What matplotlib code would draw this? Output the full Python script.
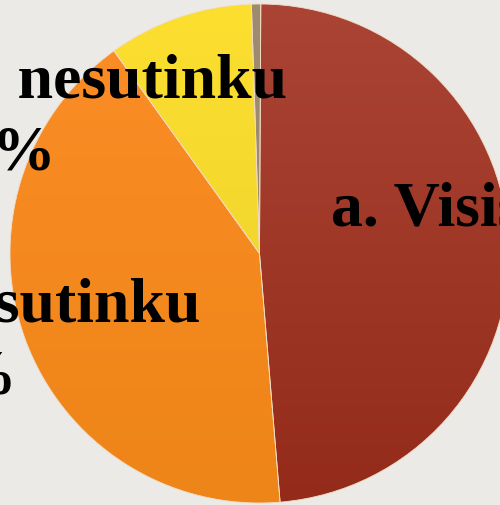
import numpy as np
import matplotlib
matplotlib.use("Agg")
import matplotlib.pyplot as plt
from matplotlib.colors import LinearSegmentedColormap

# ---- data ----
categories = ["a. Visiškai sutinku", "b. Iš dalies sutinku",
              "c. Iš dalies nesutinku", "d. Visiškai nesutinku"]
values = [48.6, 41.4, 9.4, 0.6]
pct_labels = ["49%", "41%", "9%", "1%"]
top_colors = ["#aa4434", "#fb8d26", "#fcdf2f", "#9d8c6e"]
bot_colors = ["#942b1a", "#ee8518", "#e9cf2b", "#9a896b"]

W, H = 500, 505
fig = plt.figure(figsize=(W / 100, H / 100), dpi=100)
fig.patch.set_facecolor("#ebeae6")
ax = fig.add_axes([0, 0, 1, 1])
ax.set_facecolor("#ebeae6")

cx, cy, r = 259.5, H - 253.5, 249.5
wedges, _ = ax.pie(values, startangle=89.7, counterclock=False,
                   center=(cx, cy), radius=r, colors=top_colors,
                   wedgeprops=dict(edgecolor="#f2dcc6", linewidth=0.6))

# vertical gradient inside each wedge
for w, c1, c2 in zip(wedges, top_colors, bot_colors):
    cmap = LinearSegmentedColormap.from_list("g", [c2, c1])
    grad = np.linspace(0, 1, 256).reshape(-1, 1)
    im = ax.imshow(grad, cmap=cmap, origin="lower", aspect="auto",
                   extent=(cx - r, cx + r, cy - r, cy + r), zorder=w.get_zorder() + 0.1)
    im.set_clip_path(w)
    w.set_facecolor("none")
    w.set_zorder(w.get_zorder() + 0.2)

ax.set_xlim(0, W)
ax.set_ylim(0, H)
ax.set_aspect("auto")
ax.axis("off")

font = dict(family="Liberation Serif", fontweight="bold", fontsize=46,
            color="black", va="baseline", zorder=10)

# label a (red) - left aligned, cut at right
ax.text(331, H - 225, categories[0], ha="left", **font)
ax.text(590, H - 298, pct_labels[0], ha="center", **font)
# label b (orange)
ax.text(200, H - 322, categories[1], ha="right", **font)
ax.text(-47, H - 393, pct_labels[1], ha="center", **font)
# label c (yellow)
ax.text(287, H - 97, categories[2], ha="right", **font)
ax.text(8, H - 170, pct_labels[2], ha="center", **font)

fig.savefig("out.png", dpi=100, facecolor=fig.get_facecolor())
